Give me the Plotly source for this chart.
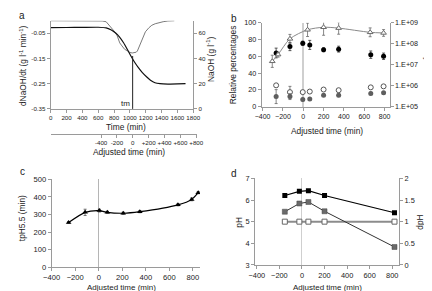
import numpy as np
import plotly.graph_objects as go

W, H = 432, 291

# ---------------- Panel a data ----------------
time_naoh = [0, 200, 400, 600, 700, 760, 820, 870, 920, 970, 1013, 1060, 1110, 1155, 1210, 1260, 1317, 1380, 1480, 1600, 1703]
naoh = [64.5, 64.6, 64.7, 64.8, 64.3, 62.8, 60.2, 57.0, 52.5, 47.0, 42.0, 37.0, 32.5, 29.0, 25.5, 22.8, 20.8, 20.0, 19.7, 19.8, 20.0]
time_rate = [0, 200, 400, 650, 700, 730, 760, 790, 811, 840, 872, 900, 933, 970, 1001, 1030, 1054, 1080, 1095, 1115, 1135, 1160, 1196, 1240, 1277, 1320, 1358, 1420, 1480, 1561]
rate = [0.0, 0.0, 0.0, -0.001, -0.004, -0.015, -0.030, -0.040, -0.045, -0.060, -0.088, -0.100, -0.113, -0.120, -0.126, -0.128, -0.127, -0.125, -0.120, -0.105, -0.088, -0.065, -0.044, -0.028, -0.018, -0.012, -0.008, -0.004, -0.001, 0.0]
tm = 1035
tm_naoh = 42
time_ticks = [0, 200, 400, 600, 800, 1000, 1200, 1400, 1600, 1800]
rate_ticks = [-0.35, -0.25, -0.15, -0.05]
rate_ticktext = ["-0.35", "-0.25", "-0.15", "-0.05"]
naoh_ticks = [0, 20, 40, 60]
adj_ticks = [-400, -200, 0, 200, 400, 600, 800]
adj_ticktext = ["-400", "-200", "0", "+200", "+400", "+600", "+800"]

# ---------------- Panel b data ----------------
b_t_cfu = [-305, -248, -131, 42, 200, 348, 658, 790]
b_cfu_log = [7.16, 7.48, 8.23, 8.66, 8.78, 8.74, 8.54, 8.51]
b_cfu_err_log = [0.29, 0.12, 0.21, 0.32, 0.38, 0.29, 0.21, 0.16]
b_t = [-267, -131, -5, 64, 200, 348, 664, 790]
b_black = [63.9, 71.5, 75.4, 73.5, 67.7, 68.5, 61.9, 60.0]
b_black_err = [5.8, 4.8, 2.5, 5.4, 2.3, 3.5, 4.4, 3.8]
b_open = [25.4, 17.3, 17.3, 18.0, 20.4, 19.6, 23.0, 24.2]
b_open_err = [0.5, 6.9, 0.5, 0.5, 0.5, 0.5, 0.5, 0.5]
b_grey = [12.0, 12.0, 8.5, 9.2, 13.5, 13.5, 15.8, 16.6]
b_grey_err = [8.3, 3.5, 1.5, 1.2, 1.2, 1.5, 1.5, 1.5]
cfu_ticks = [1e5, 1e6, 1e7, 1e8, 1e9]
cfu_ticktext = ["1.E+05", "1.E+06", "1.E+07", "1.E+08", "1.E+09"]

# ---------------- Panel c data ----------------
c_t = [-256, -116, 5, 73, 208, 349, 673, 790, 845]
c_v = [254, 312, 322, 312, 307, 316, 355, 386, 424]
c_err = [5, 18, 8, 6, 6, 6, 6, 8, 6]

# ---------------- Panel d data ----------------
d_t = [-152, -23, 57, 200, 820]
d_ph = [6.21, 6.40, 6.43, 6.21, 5.41]
d_dph = [1.23, 1.42, 1.455, 1.24, 0.415]
d_ref = [1.0, 1.0, 1.0, 1.0, 1.0]

FONT = "Liberation Sans, Arial, sans-serif"
AX = "#9a9a9a"
TXT = "#222222"


def px_x(p):
    return p / W


def px_y(p):
    return 1 - p / H


fig = go.Figure()

# Panel a
fig.add_trace(go.Scatter(x=time_rate, y=rate, mode="lines", line=dict(color="#7a7a7a", width=1),
                         xaxis="x", yaxis="y", showlegend=False, hoverinfo="skip"))
fig.add_trace(go.Scatter(x=time_naoh, y=naoh, mode="lines", line=dict(color="#111111", width=1.2, shape="spline", smoothing=0.6),
                         xaxis="x", yaxis="y2", showlegend=False))
fig.add_trace(go.Scatter(x=[tm, tm], y=[0, tm_naoh], mode="lines", line=dict(color="#222222", width=1),
                         xaxis="x", yaxis="y2", showlegend=False, hoverinfo="skip"))
fig.add_trace(go.Scatter(x=adj_ticks, y=[None] * len(adj_ticks), mode="markers", xaxis="x2", yaxis="y",
                         showlegend=False, hoverinfo="skip"))

# Panel b
cfu = 10 ** np.array(b_cfu_log)
cfu_hi = 10 ** (np.array(b_cfu_log) + np.array(b_cfu_err_log)) - cfu
cfu_lo = cfu - 10 ** (np.array(b_cfu_log) - np.array(b_cfu_err_log))
fig.add_trace(go.Scatter(x=b_t_cfu, y=cfu, mode="lines+markers", xaxis="x3", yaxis="y4",
                         line=dict(color="#8a8a8a", width=1, shape="spline", smoothing=0.8),
                         marker=dict(symbol="triangle-up", size=5, color="white", line=dict(color="#6a6a6a", width=1)),
                         error_y=dict(type="data", array=cfu_hi, arrayminus=cfu_lo, color="#6a6a6a", thickness=0.8, width=1.5),
                         showlegend=False))
fig.add_trace(go.Scatter(x=b_t, y=b_black, mode="markers", xaxis="x3", yaxis="y3",
                         marker=dict(symbol="circle", size=5, color="#000000"),
                         error_y=dict(type="data", array=b_black_err, color="#333333", thickness=0.8, width=1.5),
                         showlegend=False))
fig.add_trace(go.Scatter(x=b_t, y=b_open, mode="markers", xaxis="x3", yaxis="y3",
                         marker=dict(symbol="circle", size=5, color="white", line=dict(color="#555555", width=1)),
                         error_y=dict(type="data", array=b_open_err, color="#666666", thickness=0.8, width=1.5),
                         showlegend=False))
fig.add_trace(go.Scatter(x=b_t, y=b_grey, mode="markers", xaxis="x3", yaxis="y3",
                         marker=dict(symbol="circle", size=5, color="#5e5e5e"),
                         error_y=dict(type="data", array=b_grey_err, color="#666666", thickness=0.8, width=1.5),
                         showlegend=False))

# Panel c
fig.add_trace(go.Scatter(x=c_t, y=c_v, mode="lines+markers", xaxis="x4", yaxis="y5",
                         line=dict(color="#000000", width=1.2, shape="spline", smoothing=0.7),
                         marker=dict(symbol="triangle-up", size=5, color="#000000"),
                         error_y=dict(type="data", array=c_err, color="#555555", thickness=0.8, width=1.5),
                         showlegend=False))

# Panel d
fig.add_trace(go.Scatter(x=d_t, y=d_ref, mode="lines+markers", xaxis="x5", yaxis="y7",
                         line=dict(color="#8c8c8c", width=2),
                         marker=dict(symbol="square", size=5, color="white", line=dict(color="#666666", width=1)),
                         showlegend=False))
fig.add_trace(go.Scatter(x=d_t, y=d_dph, mode="lines+markers", xaxis="x5", yaxis="y7",
                         line=dict(color="#333333", width=1),
                         marker=dict(symbol="square", size=5, color="#6a6a6a", line=dict(color="#444444", width=0.5)),
                         showlegend=False))
fig.add_trace(go.Scatter(x=d_t, y=d_ph, mode="lines+markers", xaxis="x5", yaxis="y6",
                         line=dict(color="#000000", width=1.2),
                         marker=dict(symbol="square", size=5, color="#000000"),
                         showlegend=False))

common = dict(showgrid=False, zeroline=False, showline=True, linecolor=AX, linewidth=1,
              ticks="outside", ticklen=3, tickcolor=AX, tickwidth=1, tickangle=0)

lay = dict(
    width=W, height=H, margin=dict(l=0, r=0, t=0, b=0),
    paper_bgcolor="white", plot_bgcolor="rgba(0,0,0,0)",
    font=dict(family=FONT, color=TXT, size=7),
    showlegend=False,
    # panel a
    xaxis=dict(domain=[px_x(35), px_x(183)], range=[0, 1800], tickvals=time_ticks,
               anchor="y", tickfont=dict(size=6.2), **common),
    yaxis=dict(domain=[px_y(100), px_y(9)], range=[-0.35, 0.0], tickvals=rate_ticks, ticktext=rate_ticktext,
               anchor="x", tickfont=dict(size=6.2), **common),
    yaxis2=dict(overlaying="y", side="right", range=[0, 70], tickvals=naoh_ticks, anchor="x",
                tickfont=dict(size=6.2), **common),
    xaxis2=dict(domain=[px_x(35), px_x(187)], range=[-tm, 810], tickvals=adj_ticks, ticktext=adj_ticktext,
                anchor="free", position=px_y(125.7), tickfont=dict(size=6.2), **common),
    # panel b
    xaxis3=dict(domain=[px_x(254), px_x(387)], range=[-410, 850], tickvals=[-400, -200, 0, 200, 400, 600, 800],
                anchor="y3", tickfont=dict(size=7), **{**common, "zeroline": True}, zerolinecolor="#cfcfcf", zerolinewidth=2),
    yaxis3=dict(domain=[px_y(97.7), px_y(11)], range=[0, 100], tickvals=[0, 20, 40, 60, 80, 100],
                anchor="x3", tickfont=dict(size=7.2), **common),
    yaxis4=dict(overlaying="y3", side="right", type="log", range=[5, 9], tickvals=cfu_ticks, ticktext=cfu_ticktext,
                anchor="x3", tickfont=dict(size=7.2), **common),
    # panel c
    xaxis4=dict(domain=[px_x(36), px_x(190)], range=[-400, 860], tickvals=[-400, -200, 0, 200, 400, 600, 800],
                anchor="y5", tickfont=dict(size=7.6), **{**common, "zeroline": True}, zerolinecolor="#b5b5b5", zerolinewidth=1),
    yaxis5=dict(domain=[px_y(263.3), px_y(172.7)], range=[0, 500], tickvals=[0, 100, 200, 300, 400, 500],
                anchor="x4", tickfont=dict(size=7.6), **common),
    # panel d
    xaxis5=dict(domain=[px_x(247.3), px_x(396.7)], range=[-415, 860], tickvals=[-400, -200, 0, 200, 400, 600, 800],
                anchor="y6", tickfont=dict(size=7.4), **{**common, "zeroline": True}, zerolinecolor="#cfcfcf", zerolinewidth=1),
    yaxis6=dict(domain=[px_y(261), px_y(171.7)], range=[3, 7], tickvals=[3, 4, 5, 6, 7],
                anchor="x5", tickfont=dict(size=7.4), **common),
    yaxis7=dict(overlaying="y6", side="right", range=[0, 2], tickvals=[0, 0.5, 1, 1.5, 2],
                anchor="x5", tickfont=dict(size=7.4), **common),
)
fig.update_layout(**lay)


def ann(text, x, y, size=8.4, angle=0, xanchor="center", yanchor="middle"):
    fig.add_annotation(text=text, x=px_x(x), y=px_y(y), xref="paper", yref="paper", showarrow=False,
                       textangle=angle, xanchor=xanchor, yanchor=yanchor,
                       font=dict(size=size, family=FONT, color=TXT))


# panel letters
ann("a", 0.5, 4, size=10, xanchor="left")
ann("b", 220, 7, size=10, xanchor="left")
ann("c", 1, 165, size=10, xanchor="left")
ann("d", 220, 166.5, size=10, xanchor="left")

# panel a titles
ann("dNaOH/dt (g l<sup>-1</sup> min<sup>-1</sup>)", 6, 56, angle=-90)
ann("NaOH (g l<sup>-1</sup>)", 201.5, 49.5, angle=-90)
ann("Time (min)", 113, 118.3)
ann("Adjusted time (min)", 116.7, 144.3)
ann("tm", 112.7, 94, size=8)

# panel b titles
ann("Relative percentages", 224.3, 54, angle=-90)
ann("CFU ml<sup>-1</sup>", 425.5, 63, size=8, angle=-90)
ann("Adjusted time (min)", 322.3, 122.7)

# panel c titles
ann("tpH5.5 (min)", 6, 213, angle=-90)
ann("Adjusted time (min)", 109, 284.3, size=8)

# panel d titles
ann("pH", 231, 217, angle=-90)
ann("dpH", 419, 217, angle=-90)
ann("Adjusted time (min)", 322.7, 284.3, size=8)

fig.write_html("out.html")
